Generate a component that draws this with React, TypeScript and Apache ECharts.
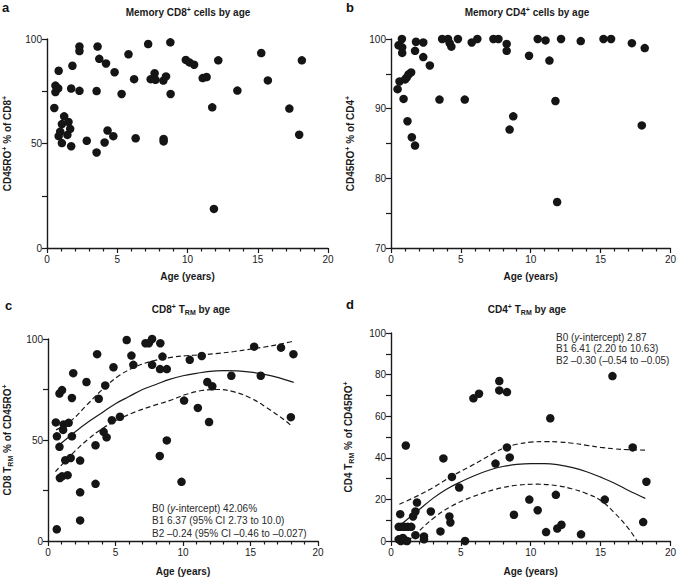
import React, { useEffect, useRef } from "react";
import * as echarts from "echarts";

// ---- Panel a: memory CD8+ (% CD45RO+ of CD8+) by age ----
const ageA = [0.52, 0.6, 0.6, 0.8, 0.83, 1.22, 1.06, 1.53, 1.65, 0.94, 0.83, 1.45, 1.06, 1.72, 1.81, 1.72, 2.31, 2.31, 2.31, 2.83, 3.53, 3.53, 3.6, 3.72, 4.2, 4.1, 4.31, 4.72, 4.81, 5.31, 5.8, 6.2, 6.31, 7.2, 7.38, 7.66, 7.72, 8.28, 8.47, 8.3, 8.3, 8.78, 8.8, 9.88, 10.14, 10.47, 11.08, 11.36, 11.76, 11.88, 12.19, 13.55, 15.25, 15.72, 17.25, 17.95, 18.14];
const memCD8 = [67, 77.7, 74.6, 76.4, 84.8, 63, 59.3, 60.3, 57, 55.7, 53.5, 54.1, 50.2, 48.7, 87.2, 76.3, 96.4, 94.2, 75.2, 51.3, 45.7, 75.1, 96.4, 90.5, 88.3, 50.5, 56.2, 53.5, 84.1, 73.7, 92.7, 80.8, 52.5, 97.6, 80.8, 83.6, 80.5, 80.1, 82.1, 52.2, 51, 98.4, 73.7, 90, 88.8, 87.7, 81.3, 81.8, 67.3, 18.7, 89.8, 75.3, 93.3, 80.2, 66.7, 54.2, 89.8];

// ---- Panel b: memory CD4+ (% CD45RO+ of CD4+) by age ----
const ageB = [0.47, 0.61, 0.54, 0.78, 0.8, 0.8, 0.9, 1.01, 1.13, 1.25, 1.44, 1.18, 1.49, 1.72, 1.72, 1.79, 2.31, 2.31, 2.78, 3.47, 3.66, 4.08, 4.2, 4.32, 4.79, 5.28, 5.78, 6.18, 7.33, 7.69, 8.28, 8.28, 8.49, 8.75, 9.88, 10.5, 11.06, 11.34, 11.77, 11.89, 12.17, 13.58, 15.21, 15.75, 17.24, 17.95, 18.16];
const memCD4 = [92.8, 93.9, 99.1, 100, 98.8, 98, 91.4, 94.2, 94.5, 94.9, 95.2, 88.2, 85.9, 84.7, 98.3, 99.6, 99.5, 97.4, 96.2, 91.3, 100, 100, 99.4, 98.9, 100, 91.3, 99.5, 100, 100, 100, 99.3, 98.3, 87, 88.9, 97.6, 100, 99.8, 96.9, 91.1, 76.6, 100, 99.7, 100, 100, 99.4, 87.6, 98.7];

// ---- Panel c: CD8 TRM (% of CD45RO+) by age ----
const ageC = [0.58, 0.66, 0.65, 0.85, 0.85, 1.04, 0.88, 1.04, 1.12, 1.16, 1.28, 1.53, 1.45, 1.68, 1.77, 1.77, 1.87, 2.38, 2.38, 2.38, 2.85, 3.64, 3.52, 3.52, 3.76, 4.24, 4.12, 4.34, 4.73, 4.85, 5.33, 5.83, 6.18, 6.32, 7.22, 7.47, 7.71, 7.71, 8.32, 8.48, 8.3, 8.8, 8.28, 8.8, 9.89, 10.08, 10.5, 11.1, 11.39, 11.8, 11.93, 12.17, 13.58, 15.27, 15.76, 17.26, 17.99, 18.18];
const trmCD8 = [58.7, 51.8, 5.8, 46.6, 73, 74.7, 31.2, 32, 55, 57.7, 40, 58.5, 32.6, 41.1, 51.8, 70.8, 83.1, 39.8, 24.1, 10.2, 78.7, 92.5, 47.4, 28.3, 70.4, 77, 54, 51.3, 59.8, 86, 61.5, 99.5, 91.8, 87.2, 97.9, 97.9, 100, 87.2, 97.9, 91.3, 85.1, 85.1, 42.1, 49.8, 29.3, 69.5, 89.7, 65.9, 91.6, 78.7, 58.9, 76.6, 81.8, 96.2, 81.8, 95.7, 61.3, 92.5];
// fitted curve and 95% band
const fitAgeC = [0.6, 1, 2, 3, 4, 5, 6, 7, 8, 9, 10, 11, 12, 13, 14, 15, 16, 17, 18.2];
const fitC = [46, 48.5, 54, 59, 63.5, 68, 71.5, 75, 77.5, 80, 81.8, 83, 84, 84.3, 84.2, 83.6, 82.5, 81, 78.5];
const upAgeC = [0.6, 1.7, 2.9, 4.1, 5.3, 6.5, 7.8, 9, 10.2, 11.4, 12.6, 13.8, 15, 16.2, 17.5, 18.2];
const upC = [55, 59.5, 67.5, 75.5, 82, 86.3, 89.2, 90.8, 91.7, 92.2, 92.9, 93.8, 95, 96.2, 97.9, 99];
const loAgeC = [0.55, 1.7, 2.9, 4.1, 5.3, 6.5, 7.8, 9, 10.2, 11.4, 12.6, 13.8, 15, 16.2, 17.5, 18.1];
const loC = [34.3, 42.5, 50, 56, 60.5, 64, 67, 69.5, 72.5, 74.5, 75, 73.8, 70.8, 66, 60, 56.5];

// ---- Panel d: CD4 TRM (% of CD45RO+) by age ----
const ageD = [1.06, 3.75, 7.48, 4.36, 4.88, 1.86, 1.75, 1.58, 0.66, 2.85, 4.18, 4.25, 0.55, 0.75, 0.95, 1.2, 1.45, 3.54, 1.75, 2.36, 2.36, 5.3, 0.55, 0.7, 0.85, 1.0, 1.15, 5.9, 6.3, 7.75, 7.75, 8.3, 8.3, 8.5, 8.8, 9.9, 10.5, 11.1, 11.4, 11.8, 11.9, 12.2, 13.6, 15.3, 15.85, 17.3, 18.05, 18.28];
const trmCD4 = [45.9, 39.7, 37.2, 30.8, 25.7, 18.5, 14.2, 11.8, 12.9, 14.2, 11.8, 8.9, 6.8, 6.8, 6.8, 6.8, 6.8, 4.6, 2.8, 2.2, 0.8, 0, 0.8, 0, 1.5, 0.3, 0, 68.6, 70.8, 76.9, 72.4, 71.6, 45, 40.2, 12.6, 19.9, 14.8, 4.3, 59, 22.2, 6, 7.8, 3.2, 19.9, 79.3, 45, 9.1, 28.5];
const fitAgeD = [0.6, 1, 2, 3, 4, 5, 6, 7, 8, 9, 10, 11, 12, 13, 14, 15, 16, 17, 18.2];
const fitD = [7.5, 9.5, 15, 20.5, 25, 28.5, 31.5, 34, 35.8, 36.8, 37.2, 37.2, 36.6, 35.3, 33.3, 30.7, 27.8, 24.3, 20.5];
const upAgeD = [0.6, 1.9, 3.1, 4.3, 5.7, 7.4, 8.1, 9, 10, 11, 12, 13, 14, 15, 16, 17, 18.2];
const upD = [17.7, 21.7, 26, 31, 36, 42.4, 44.8, 46.5, 47.5, 47.8, 47.6, 47, 46, 45, 44.3, 43.9, 43.7];
const loAgeD = [1.2, 1.9, 3.1, 4.3, 5.7, 7.5, 9, 10.5, 12, 13, 14, 15, 16, 17, 17.6];
const loD = [0, 4.2, 11.3, 16.6, 20.9, 24.9, 26.8, 27.3, 26.5, 25, 22.8, 19.5, 13.5, 6, 0];

const titles = [
  "Memory CD8{sup|+} cells by age",
  "Memory CD4{sup|+} cells by age",
  "CD8{sup|+} T{sub|RM} by age",
  "CD4{sup|+} T{sub|RM} by age",
];
const yNames = [
  "CD45RO{sup|+} % of CD8{sup|+}",
  "CD45RO{sup|+} % of CD4{sup|+}",
  "CD8 T{sub|RM} % of CD45RO{sup|+}",
  "CD4 T{sub|RM} % of CD45RO{sup|+}",
];
const notesC = [
  "B0 ({i|y}-intercept) 42.06%",
  "B1 6.37 (95% CI 2.73 to 10.0)",
  "B2 \u20130.24 (95% CI \u20130.46 to \u20130.027)",
];
const notesD = [
  "B0 ({i|y}-intercept) 2.87",
  "B1 6.41 (2.20 to 10.63)",
  "B2 \u20130.30 (\u20130.54 to \u20130.05)",
];

const F = "'Liberation Sans', Arial, Helvetica, sans-serif";
const INK = "#1a1a1a";

const richBold = {
  n: { fontSize: 10, fontWeight: "bold", fontFamily: F, lineHeight: 13, color: INK, fill: INK },
  sup: { fontSize: 7, fontWeight: "bold", fontFamily: F, lineHeight: 8, verticalAlign: "top", color: INK, fill: INK },
  sub: { fontSize: 7, fontWeight: "bold", fontFamily: F, lineHeight: 8, verticalAlign: "bottom", color: INK, fill: INK },
};
const wrapRich = (s: string) =>
  s
    .split(/(\{[a-z]+\|[^}]*\})/)
    .filter((p) => p.length)
    .map((p) => (p.startsWith("{") ? p : `{n|${p}}`))
    .join("");

const richNote = {
  n: { fontSize: 10, fontFamily: F, lineHeight: 13, color: "#2a2a2a", fill: "#2a2a2a" },
  i: { fontSize: 10, fontFamily: F, fontStyle: "italic", lineHeight: 13, color: "#2a2a2a", fill: "#2a2a2a" },
};

const grids = [
  { left: 45, top: 39, width: 283, height: 209 },
  { left: 391, top: 39, width: 282, height: 209 },
  { left: 43, top: 339, width: 275, height: 203 },
  { left: 391, top: 333, width: 282, height: 209 },
];
const yRanges = [
  { min: 0, max: 100, interval: 50 },
  { min: 70, max: 100, interval: 10 },
  { min: 0, max: 100, interval: 50 },
  { min: 0, max: 100, interval: 20 },
];
const yNameGaps = [33, 34, 34, 36];

const zip = (a: number[], b: number[]) => a.map((v, i) => [v, b[i]]);

function buildOption() {
  const lineW = 1.4;
  const xAxis = grids.map((_, i) => ({
    type: "value",
    gridIndex: i,
    min: 0,
    max: 20,
    interval: 5,
    name: "Age (years)",
    nameLocation: "middle",
    nameGap: i < 2 ? 23 : 25,
    nameTextStyle: { fontWeight: "bold", fontSize: 10, color: INK, fontFamily: F },
    axisLine: { show: true, onZero: false, lineStyle: { color: INK, width: lineW } },
    axisTick: { show: true, length: 5, lineStyle: { color: INK, width: 1.2 } },
    minorTick: { show: true, splitNumber: 5, length: 3.5, lineStyle: { color: INK, width: 1.2 } },
    axisLabel: { fontSize: 10, color: INK, fontFamily: F, margin: 6 },
    splitLine: { show: false },
    minorSplitLine: { show: false },
  }));
  const yAxis = grids.map((_, i) => ({
    type: "value",
    gridIndex: i,
    ...yRanges[i],
    name: wrapRich(yNames[i]),
    nameLocation: "middle",
    nameRotate: 90,
    nameGap: yNameGaps[i],
    nameTextStyle: { rich: richBold, fontFamily: F },
    axisLine: { show: true, onZero: false, lineStyle: { color: INK, width: lineW } },
    axisTick: { show: true, length: 5, lineStyle: { color: INK, width: 1.2 } },
    minorTick: { show: true, splitNumber: 2, length: 5, lineStyle: { color: INK, width: 1.2 } },
    axisLabel: { fontSize: 10, color: INK, fontFamily: F, margin: 5 },
    splitLine: { show: false },
    minorSplitLine: { show: false },
  }));

  const scatter = (idx: number, data: number[][]) => ({
    type: "scatter",
    xAxisIndex: idx,
    yAxisIndex: idx,
    data,
    symbol: "circle",
    symbolSize: 8.5,
    itemStyle: { color: "#151515", opacity: 1 },
    z: 3,
  });
  const curve = (idx: number, data: number[][], dashed: boolean) => ({
    type: "line",
    xAxisIndex: idx,
    yAxisIndex: idx,
    data,
    smooth: 0.4,
    showSymbol: false,
    symbol: "none",
    lineStyle: { color: INK, width: 1.2, type: dashed ? [5, 3] : "solid" },
    z: 2,
  });

  const series = [
    scatter(0, zip(ageA, memCD8)),
    scatter(1, zip(ageB, memCD4)),
    scatter(2, zip(ageC, trmCD8)),
    curve(2, zip(fitAgeC, fitC), false),
    curve(2, zip(upAgeC, upC), true),
    curve(2, zip(loAgeC, loC), true),
    scatter(3, zip(ageD, trmCD4)),
    curve(3, zip(fitAgeD, fitD), false),
    curve(3, zip(upAgeD, upD), true),
    curve(3, zip(loAgeD, loD), true),
  ];

  const titlePos = [
    [188, 12],
    [527, 12],
    [191, 309],
    [527, 309],
  ];
  const letters = [
    ["a", 2, 7],
    ["b", 346, 7],
    ["c", 5, 305],
    ["d", 346, 304],
  ];
  const graphic: any[] = [];
  titles.forEach((t, i) => {
    graphic.push({
      type: "text",
      x: titlePos[i][0],
      y: titlePos[i][1],
      style: {
        text: wrapRich(t),
        rich: richBold,
        align: "center",
        verticalAlign: "middle",
        textAlign: "center",
        textVerticalAlign: "middle",
        fill: INK,
      },
    });
  });
  letters.forEach(([l, x, y]) => {
    graphic.push({
      type: "text",
      x,
      y,
      style: {
        text: l,
        font: `bold 13px ${F}`,
        fill: "#111",
        align: "left",
        verticalAlign: "middle",
        textAlign: "left",
        textVerticalAlign: "middle",
      },
    });
  });
  const notes = (arr: string[], x: number, y0: number, dy: number) =>
    arr.forEach((t, k) => {
      graphic.push({
        type: "text",
        x,
        y: y0 + k * dy,
        style: {
          text: wrapRich(t),
          rich: richNote,
          fill: "#2a2a2a",
          align: "left",
          verticalAlign: "middle",
          textAlign: "left",
          textVerticalAlign: "middle",
        },
      });
    });
  notes(notesC, 152, 508, 12.5);
  notes(notesD, 556, 337, 11.7);

  return {
    animation: false,
    backgroundColor: "#ffffff",
    textStyle: { fontFamily: F },
    grid: grids.map((g) => ({ ...g, containLabel: false })),
    xAxis,
    yAxis,
    series,
    graphic,
  };
}

export default function App() {
  const ref = useRef<HTMLDivElement>(null);
  useEffect(() => {
    if (!ref.current) return;
    const chart = echarts.init(ref.current, undefined, { renderer: "svg" });
    chart.setOption(buildOption() as any);
    return () => chart.dispose();
  }, []);
  return (
    <div
      ref={ref}
      style={{ position: "fixed", left: 0, top: 0, width: 679, height: 577, background: "#fff" }}
    />
  );
}
